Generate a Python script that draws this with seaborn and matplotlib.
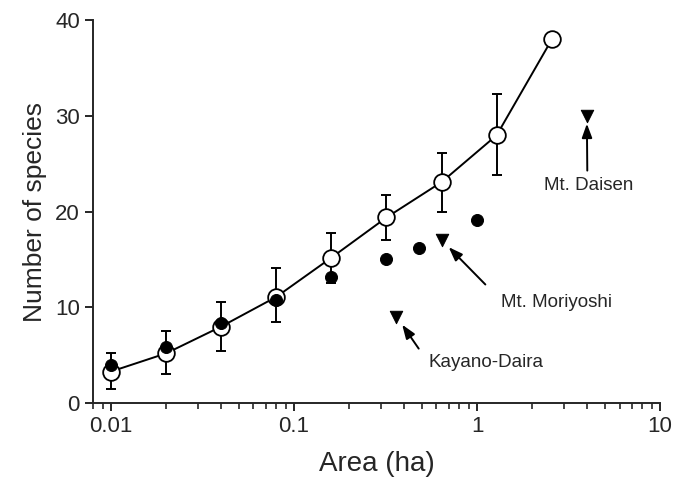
import numpy as np
import pandas as pd
import matplotlib
matplotlib.use("Agg")
import matplotlib.pyplot as plt
import seaborn as sns

# mean species curve (open circles) with error bars
area_mean = [0.01, 0.02, 0.04, 0.08, 0.16, 0.32, 0.64, 1.28, 2.56]
species_mean = [3.3, 5.2, 8.0, 11.1, 15.2, 19.4, 23.1, 28.0, 38.0]
err_low = [1.8, 2.2, 2.5, 2.6, 2.6, 2.4, 3.1, 4.2, 0.0]
err_high = [1.9, 2.3, 2.6, 3.0, 2.6, 2.4, 3.0, 4.3, 0.0]

# filled circles
area_obs = [0.01, 0.02, 0.04, 0.08, 0.16, 0.32, 0.48, 1.0]
species_obs = [4.0, 5.9, 8.4, 10.8, 13.2, 15.1, 16.2, 19.1]

# sites (triangles)
sites = ["Kayano-Daira", "Mt. Moriyoshi", "Mt. Daisen"]
area_site = [0.36, 0.64, 4.0]
species_site = [9.0, 17.0, 30.0]

# label placement (data coords)
label_x = [1.12, 2.72, 4.05]
label_y = [4.3, 10.5, 22.7]
arrow_tail = [(0.48, 5.7), (1.11, 12.4), (4.0, 24.3)]
arrow_head = [(0.39, 8.2), (0.70, 16.3), (3.98, 29.2)]

sns.set_style("ticks")
plt.rcParams["font.family"] = ["Liberation Sans", "DejaVu Sans"]

fig, ax = plt.subplots(figsize=(6.75, 4.84), dpi=100)
fig.subplots_adjust(left=0.138, right=0.978, bottom=0.167, top=0.958)

df_mean = pd.DataFrame({"area": area_mean, "species": species_mean})
ax.errorbar(area_mean[:-1], species_mean[:-1],
            yerr=[err_low[:-1], err_high[:-1]], fmt="none",
            ecolor="black", elinewidth=1.4, capsize=3.5, capthick=1.4, zorder=2)
sns.lineplot(data=df_mean, x="area", y="species", ax=ax, color="black",
             lw=1.4, marker="o", markersize=12, markerfacecolor="white",
             markeredgecolor="black", markeredgewidth=1.3, zorder=3)

df_obs = pd.DataFrame({"area": area_obs, "species": species_obs})
sns.scatterplot(data=df_obs, x="area", y="species", ax=ax, color="black",
                s=75, edgecolor="black", zorder=4)

df_site = pd.DataFrame({"area": area_site, "species": species_site})
sns.scatterplot(data=df_site, x="area", y="species", ax=ax, color="black",
                marker="v", s=80, edgecolor="black", zorder=4)

for name, tx, ty, tail, head in zip(sites, label_x, label_y, arrow_tail, arrow_head):
    ax.text(tx, ty, name, ha="center", va="center", fontsize=13.5)
    ax.annotate("", xy=head, xytext=tail,
                arrowprops=dict(arrowstyle="-|>,head_length=0.6,head_width=0.22",
                                color="black", lw=1.4, mutation_scale=14,
                                shrinkA=0, shrinkB=0))

ax.set_xscale("log")
ax.set_xlim(0.008, 10)
ax.set_ylim(0, 40)
ax.set_xticks([0.01, 0.1, 1, 10])
ax.set_xticklabels(["0.01", "0.1", "1", "10"])
ax.set_yticks([0, 10, 20, 30, 40])
ax.tick_params(axis="both", labelsize=16, width=1.4, length=6, direction="out")
ax.tick_params(axis="x", which="minor", width=1.2, length=4)
ax.set_xlabel("Area (ha)", fontsize=20, labelpad=10)
ax.set_ylabel("Number of species", fontsize=19, labelpad=6)
for s in ["left", "bottom"]:
    ax.spines[s].set_linewidth(1.4)
sns.despine(ax=ax)

fig.savefig("out.png", dpi=100)
